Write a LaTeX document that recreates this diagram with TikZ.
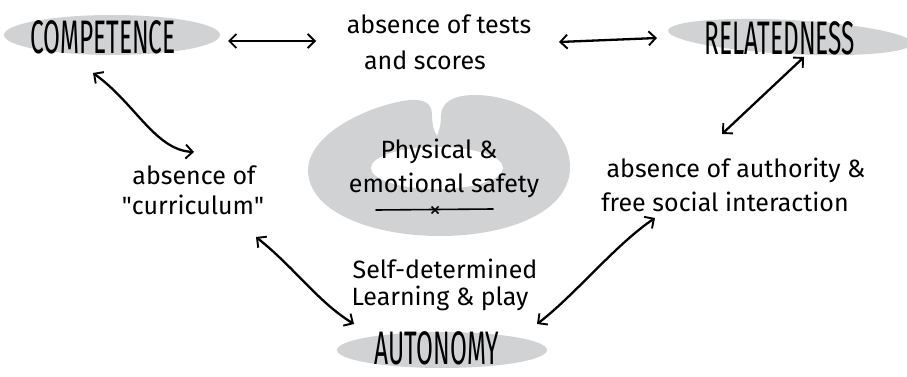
\documentclass[tikz,border=0pt]{standalone}
\usepackage{fontspec}
\setmainfont{Fira Sans}
\usetikzlibrary{arrows.meta}
\definecolor{blob}{HTML}{D1D2D4}
\tikzset{
  blobfill/.style={fill=blob, draw=none},
  caps/.style={font=\fontsize{47}{47}\selectfont, inner sep=0pt, anchor=center},
  hand/.style={font=\fontsize{25}{30}\selectfont, inner sep=0pt, anchor=center},
  barb/.tip={Straight Barb[length=7pt,width=14pt,line width=1.9pt]},
  link/.style={line width=2.3pt, barb-barb, line cap=round},
}
\newcommand{\capsw}[1]{\scalebox{0.52}[1]{#1}}
\begin{document}
\begin{tikzpicture}[x=1pt,y=-1pt]
\useasboundingbox (0,0) rectangle (907,377);

% grey blobs
\fill[blobfill] (112,35) ellipse [x radius=108, y radius=20];
\fill[blobfill, rotate around={-3:(790,37)}] (790,37) ellipse [x radius=122, y radius=17];
\fill[blobfill] (442,350) ellipse [x radius=105, y radius=18];

% safety blob with notch
\fill[blobfill] (437,136)
  .. controls (433,130) and (432,122) .. (432,115)
  .. controls (432,103) and (424,99) .. (410,100)
  .. controls (378,103) and (309,130) .. (308,170)
  .. controls (308,212) and (372,236) .. (440,236)
  .. controls (508,236) and (571,212) .. (570,166)
  .. controls (569,125) and (520,95) .. (475,95)
  .. controls (452,95) and (441,103) .. (441,116)
  .. controls (441,125) and (439,131) .. (437,136) -- cycle;
\fill[white] (437,168) ellipse [x radius=66, y radius=21];

% texts
\node[caps] (comp) at (103,37) {\capsw{COMPETENCE}};
\node[caps] (rel) at (780,38) {\capsw{RELATEDNESS}};
\node[caps] (aut) at (437,348) {\capsw{AUTONOMY}};

\node[hand] (tests1) at (439,24) {absence of tests};
\node[hand] (tests2) at (425,60) {and scores};

\node[hand] (cur1) at (194,175) {absence of};
\node[hand] (cur2) at (193,205) {\textquotedbl curriculum\textquotedbl};

\node[hand] (auth1) at (736,170) {absence of authority \&};
\node[hand] (auth2) at (725,202) {free social interaction};

\node[hand] (self1) at (445,269) {Self-determined};
\node[hand] (self2) at (440,298) {Learning \& play};

\node[hand] (safe1) at (439,151) {Physical \&};
\node[hand] (safe2) at (444,185) {emotional safety};

% underline with x
\coordinate (ul1) at (376,210);
\coordinate (ul2) at (493,209);
\coordinate (ulx) at (435,210);
\draw[line width=1.6pt, line cap=round] (ul1) -- (ul2);
\draw[line width=1.6pt] ([shift={(-3.5,-3.5)}]ulx) -- ([shift={(3.5,3.5)}]ulx)
                        ([shift={(-3.5,3.5)}]ulx) -- ([shift={(3.5,-3.5)}]ulx);

% connector end points
\coordinate (a1s) at (228,41);  \coordinate (a1e) at (316,41);
\coordinate (a2s) at (559,42);  \coordinate (a2e) at (657,38);
\coordinate (a3s) at (93,73);   \coordinate (a3e) at (194,152);
\coordinate (a4s) at (256,237); \coordinate (a4e) at (354,324);
\coordinate (a5s) at (804,57);  \coordinate (a5e) at (722,134);
\coordinate (a6s) at (655,218); \coordinate (a6e) at (537,324);

\draw[link] (a1s) -- (a1e);
\draw[link] (a2s) -- (a2e);
\draw[link] (a3s) .. controls (135,103) and (155,150) .. (a3e);
\draw[link] (a4s) .. controls (295,268) and (318,302) .. (a4e);
\draw[link] (a5s) -- (a5e);
\draw[link] (a6s) .. controls (615,245) and (575,295) .. (a6e);
\end{tikzpicture}
\end{document}
